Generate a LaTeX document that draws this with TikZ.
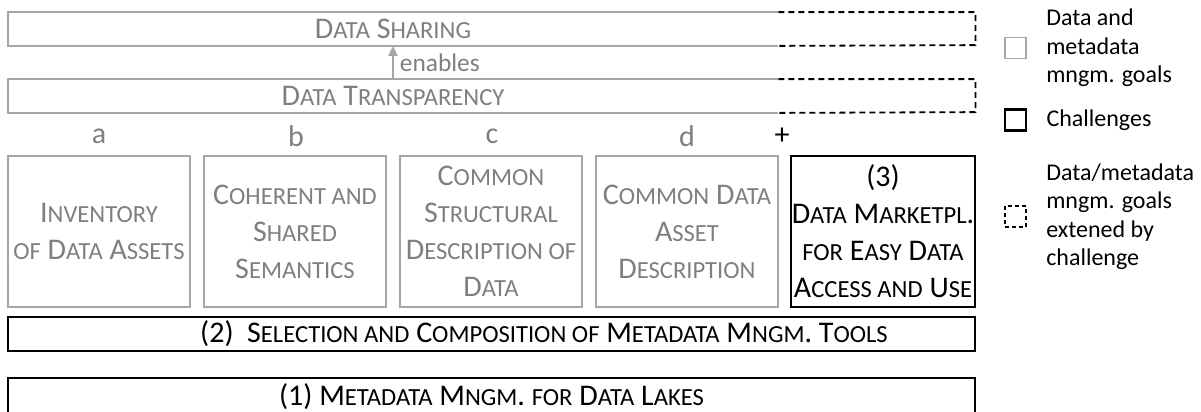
\documentclass[tikz,border=0pt]{standalone}
\usepackage{fontspec}
\setmainfont{Carlito}
\usetikzlibrary{arrows.meta,positioning}
\definecolor{goalline}{RGB}{166,166,166}
\definecolor{goaltext}{RGB}{127,127,127}
% small capitals made by hand (Carlito has none)
\newcommand\sm[1]{{\fontsize{12.3}{18.5}\selectfont #1}}

\begin{document}
\begin{tikzpicture}[x=0.5pt,y=-0.5pt,
    txt/.style={font=\fontsize{15}{18.5}\selectfont},
    goal/.style={txt,draw=goalline,line width=0.9pt,text=goaltext,align=center,
      minimum width=91pt,minimum height=75.5pt,inner sep=0.5pt},
    chal/.style={txt,draw,line width=1.1pt,align=center,inner sep=0.5pt},
    bar/.style={txt,text=goaltext,minimum height=16.5pt,inner sep=0pt},
    letter/.style={txt,text=goaltext},
    legend/.style={font=\fontsize{12}{14.25}\selectfont,align=left,inner sep=0pt},
    key/.style={minimum size=10.5pt,inner sep=0pt}]
  \useasboundingbox (0,0) rectangle (1201,412);
  % goals on top
  \node[bar,minimum width=385pt] (sharing) at (393,29) {D\sm{ATA} S\sm{HARING}};
  \draw[goalline,line width=0.9pt] (sharing.north east) -- (sharing.north west)
    -- (sharing.south west) -- (sharing.south east);
  \draw[dash pattern=on 3pt off 2pt,line width=0.9pt] (sharing.north east)
    -- ++(197,0) -- ++(0,33) -- (sharing.south east);
  \node[bar,minimum width=385pt] (transp) at (393,96) {D\sm{ATA} T\sm{RANSPARENCY}};
  \draw[goalline,line width=0.9pt] (transp.north east) -- (transp.north west)
    -- (transp.south west) -- (transp.south east);
  \draw[dash pattern=on 3pt off 2pt,line width=0.9pt] (transp.north east)
    -- ++(197,0) -- ++(0,33) -- (transp.south east);
  \draw[goalline,line width=0.9pt,-{Triangle[length=5pt,width=4.5pt]}] (transp.north)
    -- (sharing.south) node[midway,right,text=goaltext,font=\fontsize{12.7}{14}\selectfont,inner sep=3pt] (enab) {enables};
  % sub goals
  \node[goal] (ga) at (99,231.5) {I\sm{NVENTORY}\\\sm{OF} D\sm{ATA} A\sm{SSETS}};
  \node[goal] (gb) at (295,231.5) {C\sm{OHERENT AND}\\S\sm{HARED}\\S\sm{EMANTICS}};
  \node[goal] (gc) at (491,231.5) {C\sm{OMMON}\\S\sm{TRUCTURAL}\\D\sm{ESCRIPTION OF}\\D\sm{ATA}};
  \node[goal] (gd) at (687,231.5) {C\sm{OMMON} D\sm{ATA}\\A\sm{SSET}\\D\sm{ESCRIPTION}};
  \node[chal,minimum width=91pt,minimum height=75.5pt] (market) at (883,231.5)
    {(3)\\D\sm{ATA} M\sm{ARKETPL}.\\\sm{FOR} E\sm{ASY} D\sm{ATA}\\A\sm{CCESS AND} U\sm{SE}};
  \foreach \l/\x in {a/99,b/296,c/492,d/687}
    \node[letter] (l\l) at (\x,136) {\l};
  \node[txt] (plus) at (782,136) {+};
  % challenges below
  \node[chal,minimum width=483.5pt,minimum height=17pt] (tools) at (491.5,334) {};
  \node[txt] (toolstext) at (544,334)
    {(2)~~S\sm{ELECTION AND} C\sm{OMPOSITION OF} M\sm{ETADATA} M\sm{NGM}. T\sm{OOLS}};
  \node[chal,minimum width=483.5pt,minimum height=19pt] (lakes) at (491.5,397)
    {(1) M\sm{ETADATA} M\sm{NGM}. \sm{FOR} D\sm{ATA} L\sm{AKES}};
  % legend
  \node[key,draw=goalline,line width=0.9pt] (kgoal) at (1015.5,48) {};
  \node[legend,right=9.5pt of kgoal] (tgoal) {Data and\\metadata\\mngm. goals};
  \node[key,draw,line width=1.1pt] (kchal) at (1015.5,120) {};
  \node[legend,right=9.5pt of kchal] (tchal) {Challenges};
  \node[key,draw,line width=0.9pt,dash pattern=on 2pt off 1.5pt] (kext) at (1015.5,216.5) {};
  \node[legend,right=9.5pt of kext] (text) {Data/metadata\\mngm. goals\\extened by\\challenge};
\end{tikzpicture}
\end{document}
